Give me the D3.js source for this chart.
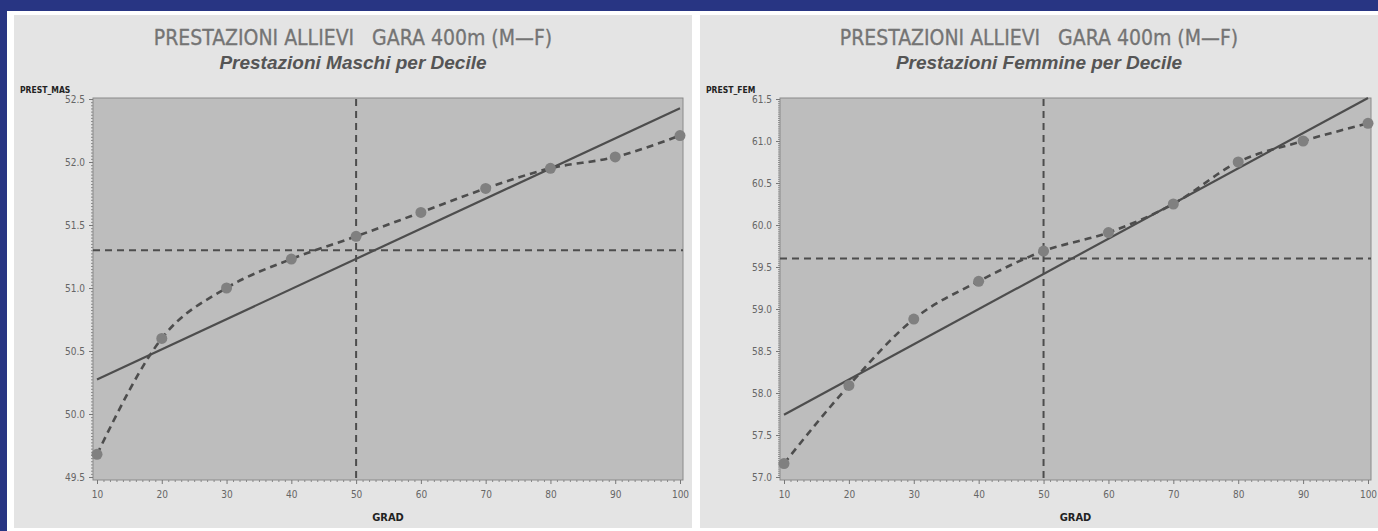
<!DOCTYPE html>
<html>
<head>
<meta charset="utf-8">
<script src="https://cdn.jsdelivr.net/npm/d3@7"></script>
<style>
  html, body { margin: 0; padding: 0; background: #ffffff; }
  svg { display: block; }
</style>
</head>
<body>
<svg id="chart" width="1378" height="531"></svg>
<script>
// Deciles (GRAD) and 400m times per decile
const grad = [10, 20, 30, 40, 50, 60, 70, 80, 90, 100];
const prestMas = [49.68, 50.60, 51.00, 51.23, 51.41, 51.60, 51.79, 51.95, 52.04, 52.21];
const prestFem = [57.16, 58.09, 58.88, 59.33, 59.69, 59.91, 60.25, 60.75, 61.00, 61.21];

// Reference lines: median decile and reference time
const refGrad = [50, 50];
const refTime = [51.3, 59.6];

// Axis ticks
const xTicks = [10, 20, 30, 40, 50, 60, 70, 80, 90, 100];
const yTicksMas = [49.5, 50.0, 50.5, 51.0, 51.5, 52.0, 52.5];
const yTicksFem = [57.0, 57.5, 58.0, 58.5, 59.0, 59.5, 60.0, 60.5, 61.0, 61.5];

const mainTitle = "PRESTAZIONI ALLIEVI   GARA 400m (M\u2014F)";
const subTitles = ["Prestazioni Maschi per Decile", "Prestazioni Femmine per Decile"];
const yLabels = ["PREST_MAS", "PREST_FEM"];
const xLabel = "GRAD";

const svg = d3.select("#chart");

// Page frame
svg.append("rect").attr("x", 0).attr("y", 0).attr("width", 1378).attr("height", 531).attr("fill", "#ffffff");
svg.append("rect").attr("x", 0).attr("y", 0).attr("width", 1378).attr("height", 11).attr("fill", "#283583");
svg.append("rect").attr("x", 0).attr("y", 0).attr("width", 7).attr("height", 531).attr("fill", "#283583");

const ink = "#4d4d4d";
const narrow = "'Liberation Sans Narrow', 'DejaVu Sans Condensed', 'Liberation Sans', Arial, sans-serif";

function linearFit(xs, ys) {
  const mx = d3.mean(xs), my = d3.mean(ys);
  const sxy = d3.sum(xs, (x, i) => (x - mx) * (ys[i] - my));
  const sxx = d3.sum(xs, x => (x - mx) * (x - mx));
  const b = sxy / sxx;
  return x => my + b * (x - mx);
}

function drawPanel(opt) {
  const g = svg.append("g");
  const p = opt.panel, f = opt.frame;

  g.append("rect").attr("x", p.x).attr("y", p.y).attr("width", p.w).attr("height", p.h)
    .attr("fill", "#e4e4e4");

  const cx = p.x + p.w / 2;
  g.append("text").attr("x", cx).attr("y", 45).attr("text-anchor", "middle")
    .attr("font-family", narrow).attr("font-size", 21).attr("fill", "#747474")
    .attr("stroke", "#747474").attr("stroke-width", 0.3)
    .style("white-space", "pre").text(mainTitle);
  g.append("text").attr("x", cx).attr("y", 69).attr("text-anchor", "middle")
    .attr("font-family", "'Liberation Sans', Arial, sans-serif").attr("font-size", 19)
    .attr("font-weight", "bold").attr("font-style", "italic").attr("fill", "#555555")
    .text(opt.subtitle);

  const x = d3.scaleLinear().domain([10, 100]).range([f.x0 + 4, f.x1 - 3]);
  const y = d3.scaleLinear().domain(opt.yDomain).range([f.y1 - 3, f.y0 + 1]);

  // plot area
  g.append("rect").attr("x", f.x0).attr("y", f.y0).attr("width", f.x1 - f.x0).attr("height", f.y1 - f.y0)
    .attr("fill", "#bdbdbd").attr("stroke", "#8a8a8a").attr("stroke-width", 1);

  // x axis
  const xMinor = d3.range(10, 100.001, 1).filter(v => v % 10 !== 0);
  const xAxis = d3.axisBottom(x).tickValues(xTicks).tickSize(4).tickFormat(d3.format("d"));
  const gx = g.append("g").attr("transform", `translate(0,${f.y1})`).call(xAxis);
  gx.select(".domain").remove();
  gx.selectAll(".tick line").attr("stroke", "#777");
  gx.selectAll(".tick text").attr("font-family", narrow).attr("font-size", 10).attr("fill", "#666").attr("dy", "1.05em");
  const gxm = g.append("g").attr("transform", `translate(0,${f.y1})`)
    .call(d3.axisBottom(x).tickValues(xMinor).tickSize(2).tickFormat(""));
  gxm.select(".domain").remove();
  gxm.selectAll(".tick line").attr("stroke", "#888");

  // y axis
  const yStep = 0.025;
  const yMinor = d3.range(opt.yDomain[0], opt.yDomain[1] + 1e-9, yStep)
    .filter(v => Math.abs(v * 2 - Math.round(v * 2)) > 1e-6);
  const yAxis = d3.axisLeft(y).tickValues(opt.yTicks).tickSize(4).tickFormat(d3.format(".1f"));
  const gy = g.append("g").attr("transform", `translate(${f.x0},0)`).call(yAxis);
  gy.select(".domain").remove();
  gy.selectAll(".tick line").attr("stroke", "#777");
  gy.selectAll(".tick text").attr("font-family", narrow).attr("font-size", 10).attr("fill", "#666").attr("dx", "-0.1em");
  const gym = g.append("g").attr("transform", `translate(${f.x0},0)`)
    .call(d3.axisLeft(y).tickValues(yMinor).tickSize(2).tickFormat(""));
  gym.select(".domain").remove();
  gym.selectAll(".tick line").attr("stroke", "#8a8a8a");

  // axis titles
  g.append("text").attr("x", p.x + 6).attr("y", f.y0 - 5)
    .attr("font-family", narrow).attr("font-size", 8.5).attr("font-weight", "bold").attr("fill", "#222")
    .text(opt.yLabel);
  g.append("text").attr("x", (f.x0 + f.x1) / 2).attr("y", 521).attr("text-anchor", "middle")
    .attr("font-family", narrow).attr("font-size", 11).attr("font-weight", "bold").attr("fill", "#222")
    .text(xLabel);

  // reference lines
  g.append("line").attr("x1", x(opt.refX)).attr("x2", x(opt.refX)).attr("y1", f.y0 + 1).attr("y2", f.y1)
    .attr("stroke", ink).attr("stroke-width", 2).attr("stroke-dasharray", "7,5");
  g.append("line").attr("x1", f.x0).attr("x2", f.x1).attr("y1", y(opt.refY)).attr("y2", y(opt.refY))
    .attr("stroke", ink).attr("stroke-width", 2).attr("stroke-dasharray", "7,5");

  // regression line
  const fit = linearFit(grad, opt.values);
  const xr = d3.extent(grad);
  g.append("line").attr("x1", x(xr[0])).attr("y1", y(fit(xr[0])))
    .attr("x2", x(xr[1])).attr("y2", y(fit(xr[1])))
    .attr("stroke", ink).attr("stroke-width", 2.2);

  // observed deciles, dashed connection
  const pts = grad.map((d, i) => [d, opt.values[i]]);
  g.append("path").datum(pts)
    .attr("d", d3.line().x(d => x(d[0])).y(d => y(d[1])).curve(d3.curveMonotoneX))
    .attr("fill", "none").attr("stroke", ink).attr("stroke-width", 2.6).attr("stroke-dasharray", "7,5");
  g.selectAll("circle.pt").data(pts).join("circle").attr("class", "pt")
    .attr("cx", d => x(d[0])).attr("cy", d => y(d[1])).attr("r", 5.5)
    .attr("fill", "#808080");
}

drawPanel({
  panel: { x: 14, y: 15, w: 678, h: 513 },
  frame: { x0: 93, x1: 683, y0: 98, y1: 480 },
  yDomain: [49.5, 52.5], yTicks: yTicksMas, values: prestMas,
  refX: refGrad[0], refY: refTime[0],
  subtitle: subTitles[0], yLabel: yLabels[0]
});
drawPanel({
  panel: { x: 700, y: 15, w: 678, h: 513 },
  frame: { x0: 780, x1: 1371, y0: 98, y1: 480 },
  yDomain: [57.0, 61.5], yTicks: yTicksFem, values: prestFem,
  refX: refGrad[1], refY: refTime[1],
  subtitle: subTitles[1], yLabel: yLabels[1]
});
</script>
</body>
</html>
